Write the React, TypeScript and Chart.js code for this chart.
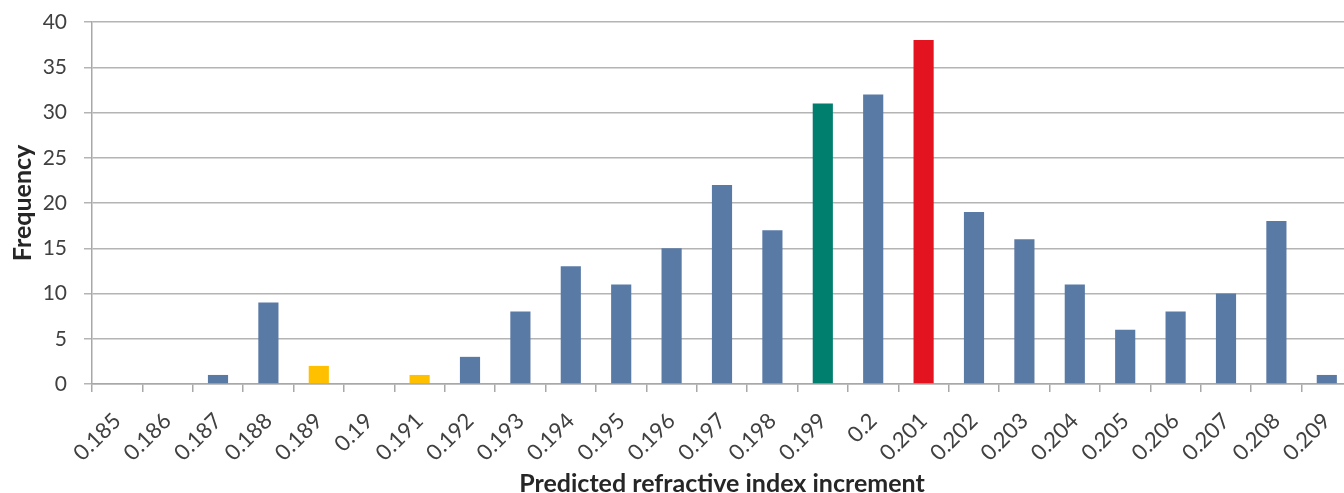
import React, { useEffect, useRef } from "react";
import { Chart, registerables } from "chart.js";

Chart.register(...registerables);

const categories = ["0.185","0.186","0.187","0.188","0.189","0.19","0.191","0.192","0.193","0.194","0.195","0.196","0.197","0.198","0.199","0.2","0.201","0.202","0.203","0.204","0.205","0.206","0.207","0.208","0.209"];
const frequency = [0,0,1,9,2,0,1,3,8,13,11,15,22,17,31,32,38,19,16,11,6,8,10,18,1];
const barColors = ["#5a7aa6","#5a7aa6","#5a7aa6","#5a7aa6","#ffc000","#5a7aa6","#ffc000","#5a7aa6","#5a7aa6","#5a7aa6","#5a7aa6","#5a7aa6","#5a7aa6","#5a7aa6","#007e6e","#5a7aa6","#e3141f","#5a7aa6","#5a7aa6","#5a7aa6","#5a7aa6","#5a7aa6","#5a7aa6","#5a7aa6","#5a7aa6"];
const yTicks = [0,5,10,15,20,25,30,35,40];

const FONT = "Lato, 'Open Sans', sans-serif";

export default function App() {
  const ref = useRef<HTMLCanvasElement>(null);
  useEffect(() => {
    if (!ref.current) return;
    const chart = new Chart(ref.current, {
      type: "bar",
      data: {
        labels: categories,
        datasets: [{
          data: frequency,
          backgroundColor: barColors,
          categoryPercentage: 0.4,
          barPercentage: 1.0,
        }],
      },
      options: {
        animation: false,
        responsive: false,
        maintainAspectRatio: false,
        layout: { padding: { top: 22, right: 8, left: 0, bottom: 0 } },
        plugins: { legend: { display: false }, tooltip: { enabled: false } },
        scales: {
          x: {
            offset: true,
            grid: { offset: true, drawOnChartArea: false, drawTicks: true, tickLength: 8, color: "#a8a8a8", lineWidth: 1.5 },
            border: { color: "#a8a8a8", width: 1.5 },
            ticks: { color: "#404040", font: { family: FONT, size: 22 }, maxRotation: 45, minRotation: 45, padding: 16, autoSkip: false },
            title: { display: true, text: "Predicted refractive index increment", color: "#262626", font: { family: FONT, size: 25, weight: "bold" }, padding: { top: 0, bottom: 0 } },
            afterFit: (s: any) => { s.height = 115; s.paddingLeft = 0; s.paddingRight = 0; },
          },
          y: {
            min: 0, max: 40,
            afterBuildTicks: (s: any) => { s.ticks = yTicks.map((v) => ({ value: v })); },
            grid: { color: "#b4b4b4", lineWidth: 1.5, tickLength: 8 },
            border: { color: "#a8a8a8", width: 1.5 },
            ticks: { color: "#404040", font: { family: FONT, size: 21 }, padding: 17 },
            title: { display: true, text: "Frequency", color: "#262626", font: { family: FONT, size: 25, weight: "bold" }, padding: { top: 8, bottom: 0 } },
            afterFit: (s: any) => { s.width = 92; s.paddingTop = 0; s.paddingBottom = 0; },
          },
        },
      },
    });
    return () => chart.destroy();
  }, []);
  return (
    <div style={{ position: "fixed", left: 0, top: 0, width: 1344, height: 493, overflow: "hidden", background: "#fff" }}>
      <canvas ref={ref} width={1360} height={499} style={{ display: "block", width: 1360, height: 499 }} />
    </div>
  );
}
